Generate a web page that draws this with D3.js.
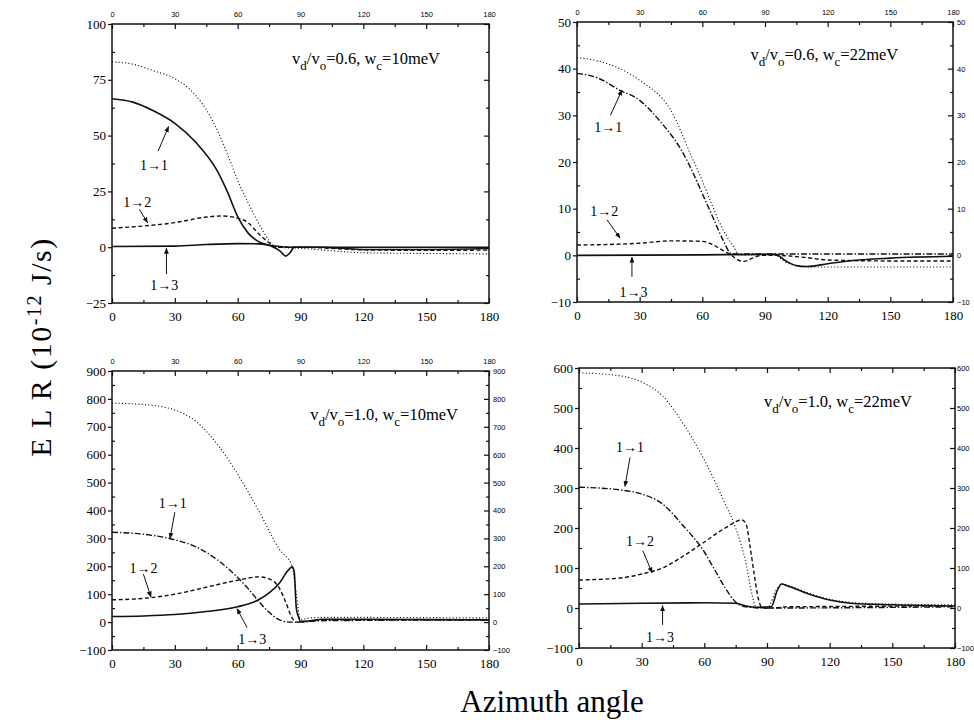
<!DOCTYPE html>
<html>
<head>
<meta charset="utf-8">
<script src="https://cdn.jsdelivr.net/npm/d3@7"></script>
<style>
  body { margin: 0; background: #fff; }
  svg { display: block; }
</style>
</head>
<body>
<div class="chart"></div>
<script>
// Azimuth angle (deg) vs energy loss rate (1e-12 J/s)
const xTicks = [0, 30, 60, 90, 120, 150, 180]
const xMinor = [15, 45, 75, 105, 135, 165]

// top-left: vd/vo = 0.6, wc = 10 meV
const tlSum = [[0, 83], [10, 82], [20, 79], [30, 75.5], [39, 69], [47, 58.5], [55, 42], [60, 30], [66, 18], [71, 9], [75, 3], [78.5, 0], [90, -0.5], [100, -1.2], [120, -2.5], [150, -2.8], [180, -3]]
const tl11 = [[0, 66.5], [10, 65], [20, 61], [30, 55.5], [40, 47], [50, 34.6], [55, 25], [60, 13.7], [65, 6.3], [70, 2.5], [76, 0.5], [80, -1.5], [83, -4], [85, -2.5], [87, 0], [90, 0], [180, 0]]
const tl12 = [[0, 8.5], [15, 9.5], [30, 11], [45, 13.5], [52, 14], [60, 13], [65, 11], [70, 6], [75, 2], [78, 0], [90, 0], [100, -0.3], [120, -1.2], [150, -1.4], [180, -1.3]]
const tl13 = [[0, 0.3], [30, 0.5], [45, 1.2], [60, 1.6], [70, 1.5], [78, 0.5], [85, 0], [100, 0], [110, -0.5], [120, -1], [150, -1], [180, -0.6]]
const tlTicks = [-25, 0, 25, 50, 75, 100]

// top-right: vd/vo = 0.6, wc = 22 meV
const trSum = [[0, 42.4], [15, 41], [30, 37.5], [45, 31], [55, 21], [60, 16], [65, 10.4], [70, 5.4], [75, 1.8], [78, 0], [90, 0.2], [95, 0], [100, -1.5], [110, -2.5], [180, -2.5]]
const tr11 = [[0, 39], [10, 38], [20, 35.5], [30, 33.2], [40, 28.6], [50, 22.5], [55, 18.2], [60, 13.2], [65, 8.2], [70, 3.2], [74, 0.3], [90, 0.3], [180, 0.3]]
const tr12 = [[0, 2.2], [30, 2.6], [45, 3.1], [60, 3], [65, 2.3], [70, 1], [74, 0], [77, -1], [80, -1.3], [84, -0.6], [88, 0], [95, 0], [110, -0.5], [120, -1], [150, -1.2], [180, -1.2]]
const tr13 = [[0, 0], [60, 0.1], [90, 0.2], [95, 0.2], [100, -1.2], [105, -2.2], [110, -2.4], [120, -1.8], [130, -1.2], [150, -0.6], [180, -0.2]]
const trTicks = [-10, 0, 10, 20, 30, 40, 50]

// bottom-left: vd/vo = 1.0, wc = 10 meV
const blSum = [[0, 785], [15, 780], [30, 760], [40, 720], [50, 640], [60, 530], [70, 400], [80, 260], [86, 200], [88, 100], [90, 10], [95, 15], [100, 17], [180, 15]]
const bl11 = [[0, 322], [15, 315], [30, 295], [40, 270], [50, 225], [60, 160], [65, 120], [70, 75], [75, 35], [80, 8], [85, 0], [90, 0], [100, 5], [180, 8]]
const bl12 = [[0, 80], [15, 85], [30, 100], [45, 125], [60, 150], [70, 162], [75, 155], [80, 120], [83, 70], [86, 15], [88, 0], [100, 8], [180, 8]]
const bl13 = [[0, 20], [15, 22], [30, 27], [45, 38], [60, 55], [70, 80], [75, 105], [80, 140], [84, 185], [86, 198], [87, 180], [88, 50], [89, 20], [90, 3], [95, 5], [100, 10], [120, 10], [180, 8]]
const blTicks = [-100, 0, 100, 200, 300, 400, 500, 600, 700, 800, 900]

// bottom-right: vd/vo = 1.0, wc = 22 meV
const brSum = [[0, 588], [20, 580], [30, 565], [40, 530], [50, 460], [60, 370], [70, 260], [75, 200], [80, 110], [83, 30], [85, 0], [90, 0], [95, 50], [97, 60], [100, 57], [110, 37], [120, 22], [140, 11], [180, 8]]
const br11 = [[0, 302], [20, 295], [30, 285], [40, 260], [50, 205], [60, 140], [65, 95], [70, 50], [75, 15], [80, 3], [90, 0], [180, 3]]
const br12 = [[0, 70], [20, 75], [30, 85], [40, 100], [50, 130], [60, 165], [70, 200], [78, 220], [80, 210], [82, 150], [84, 80], [86, 20], [88, 0], [92, 0], [100, 3], [180, 5]]
const br13 = [[0, 10], [30, 12], [60, 13], [75, 12], [80, 5], [85, 2], [92, 3], [95, 45], [97, 60], [100, 55], [110, 35], [120, 20], [130, 12], [150, 8], [180, 5]]
const brTicks = [-100, 0, 100, 200, 300, 400, 500, 600]

// arrow labels: [text, labelX, labelY, fromX, fromY, toX, toY] in data units
const tlTags = [['1→1', 20, 37, 22, 43, 27, 54], ['1→2', 12, 20, 13, 17, 17, 11], ['1→3', 25, -17, 26, -12, 26, -0.5]]
const trTags = [['1→1', 15, 27.5, 16, 30, 21.5, 35.4], ['1→2', 13, 9.5, 14.4, 7.6, 20.6, 3.7], ['1→3', 27, -7.8, 26.3, -4.6, 26.3, -0.4]]
const blTags = [['1→1', 29, 427, 30, 394, 27.7, 300], ['1→2', 15, 194, 15, 172, 18.6, 90], ['1→3', 67, -60, 64.5, -20, 59.7, 48]]
const brTags = [['1→1', 24.4, 402, 24.4, 376, 22, 304], ['1→2', 29.2, 167, 30.6, 143, 35, 88], ['1→3', 38.8, -72, 40, -42, 40, 6]]

const ratios = ['0.6', '0.6', '1.0', '1.0']
const energies = ['10', '22', '10', '22']
const notePos = [[86, 82], [83, 41.8], [94.6, 724], [88.6, 502]]

const serif = "'Liberation Serif', 'Times New Roman', 'DejaVu Serif', serif"
const sans = "'Liberation Sans', Arial, 'DejaVu Sans', sans-serif"
const dashes = { dot: '1.1,2.2', dash: '4,2.6', dashdot: '6,2,1.4,2', solid: null }

const panels = [
  { box: [112, 24, 489, 303], yDomain: [-25, 100], yTicks: tlTicks, yMinor: 12.5, top: true, right: false, series: [tlSum, tl11, tl12, tl13], styles: ['dot', 'solid', 'dash', 'solid'], tags: tlTags },
  { box: [577, 22, 953, 302], yDomain: [-10, 50], yTicks: trTicks, yMinor: 5, top: true, right: true, series: [trSum, tr11, tr12, tr13], styles: ['dot', 'dashdot', 'dash', 'solid'], tags: trTags },
  { box: [112, 371, 489, 650], yDomain: [-100, 900], yTicks: blTicks, yMinor: 50, top: true, right: true, series: [blSum, bl11, bl12, bl13], styles: ['dot', 'dashdot', 'dash', 'solid'], tags: blTags },
  { box: [579, 368, 955, 648], yDomain: [-100, 600], yTicks: brTicks, yMinor: 50, top: false, right: true, series: [brSum, br11, br12, br13], styles: ['dot', 'dashdot', 'dash', 'solid'], tags: brTags }
]

const svg = d3.select('.chart').append('svg')
  .attr('width', 974)
  .attr('height', 728)

svg.append('defs').append('marker')
  .attr('id', 'head')
  .attr('viewBox', '0 0 10 10')
  .attr('refX', 9).attr('refY', 5)
  .attr('markerWidth', 6).attr('markerHeight', 6)
  .attr('orient', 'auto')
  .append('path')
  .attr('d', 'M0,1 L10,5 L0,9 Z')
  .attr('fill', '#111')

panels.forEach((p, i) => {
  const [x0, y0, x1, y1] = p.box
  const x = d3.scaleLinear().domain([0, 180]).range([x0, x1])
  const y = d3.scaleLinear().domain(p.yDomain).range([y1, y0])
  const g = svg.append('g')

  const minorY = d3.range(p.yDomain[0] + p.yMinor, p.yDomain[1], p.yMinor).filter(v => !p.yTicks.includes(v))

  // bottom axis
  const bottom = g.append('g').attr('transform', `translate(0,${y1})`)
  bottom.call(d3.axisBottom(x).tickValues(xTicks).tickSizeInner(-5).tickSizeOuter(0).tickPadding(9))
  bottom.append('g').call(d3.axisBottom(x).tickValues(xMinor).tickSize(-3).tickFormat(''))
  bottom.selectAll('text').style('font-family', serif).style('font-size', '13px')

  // top axis
  const top = g.append('g').attr('transform', `translate(0,${y0})`)
  top.call(d3.axisTop(x).tickValues(xTicks).tickSizeInner(-5).tickSizeOuter(0).tickPadding(7).tickFormat(p.top ? d3.format('d') : ''))
  top.append('g').call(d3.axisTop(x).tickValues(xMinor).tickSize(-3).tickFormat(''))
  top.selectAll('text').style('font-family', sans).style('font-size', '7.5px')

  // left axis
  const left = g.append('g').attr('transform', `translate(${x0},0)`)
  left.call(d3.axisLeft(y).tickValues(p.yTicks).tickSizeInner(4).tickSizeOuter(0).tickPadding(2))
  left.append('g').call(d3.axisLeft(y).tickValues(minorY).tickSize(-3).tickFormat(''))
  left.selectAll('text').style('font-family', serif).style('font-size', '13px')

  // right axis
  const right = g.append('g').attr('transform', `translate(${x1},0)`)
  right.call(d3.axisRight(y).tickValues(p.yTicks).tickSizeInner(-5).tickSizeOuter(0).tickPadding(i === 3 ? 2 : 4).tickFormat(p.right ? d3.format('d') : ''))
  right.append('g').call(d3.axisRight(y).tickValues(minorY).tickSize(-3).tickFormat(''))
  right.selectAll('text').style('font-family', sans).style('font-size', '7.5px')

  g.selectAll('.domain').remove()
  g.selectAll('.tick line').attr('stroke', '#111').attr('stroke-width', 1.2)

  g.append('rect')
    .attr('x', x0).attr('y', y0)
    .attr('width', x1 - x0).attr('height', y1 - y0)
    .attr('fill', 'none')
    .attr('stroke', '#111')
    .attr('stroke-width', 1.5)

  const line = d3.line()
    .x(d => x(d[0]))
    .y(d => y(d[1]))
    .curve(d3.curveMonotoneX)

  g.selectAll('path.curve')
    .data(p.series)
    .enter()
    .append('path')
    .attr('class', 'curve')
    .attr('d', line)
    .attr('fill', 'none')
    .attr('stroke', '#111')
    .attr('stroke-width', (d, k) => p.styles[k] === 'solid' ? 1.6 : p.styles[k] === 'dot' ? 1.1 : 1.4)
    .attr('stroke-dasharray', (d, k) => dashes[p.styles[k]])

  // arrows with transition labels
  p.tags.forEach(t => {
    g.append('text')
      .attr('x', x(t[1])).attr('y', y(t[2]))
      .attr('dy', '0.35em')
      .attr('text-anchor', 'middle')
      .style('font-family', serif)
      .style('font-size', '14px')
      .text(t[0])
    g.append('line')
      .attr('x1', x(t[3])).attr('y1', y(t[4]))
      .attr('x2', x(t[5])).attr('y2', y(t[6]))
      .attr('stroke', '#111')
      .attr('stroke-width', 1)
      .attr('marker-end', 'url(#head)')
  })

  // parameter note
  const note = g.append('text')
    .attr('x', x(notePos[i][0])).attr('y', y(notePos[i][1]))
    .style('font-family', serif)
    .style('font-size', '16.5px')
  note.append('tspan').text('v')
  note.append('tspan').attr('dy', 6).style('font-size', '13px').text('d')
  note.append('tspan').attr('dy', -6).text('/v')
  note.append('tspan').attr('dy', 6).style('font-size', '13px').text('o')
  note.append('tspan').attr('dy', -6).text('=' + ratios[i] + ', w')
  note.append('tspan').attr('dy', 6).style('font-size', '13px').text('c')
  note.append('tspan').attr('dy', -6).text('=' + energies[i] + 'meV')
})

// shared axis titles
const yTitle = svg.append('text')
  .attr('transform', 'translate(51,347) rotate(-90)')
  .attr('text-anchor', 'middle')
  .style('font-family', serif)
  .style('font-size', '30px')
  .style('letter-spacing', '1.5px')
yTitle.append('tspan').text('E L R (10')
yTitle.append('tspan').attr('dy', -10).style('font-size', '20px').text('-12')
yTitle.append('tspan').attr('dy', 10).text(' J/s)')

svg.append('text')
  .attr('x', 552).attr('y', 712)
  .attr('text-anchor', 'middle')
  .style('font-family', serif)
  .style('font-size', '31px')
  .text('Azimuth angle')
</script>
</body>
</html>
